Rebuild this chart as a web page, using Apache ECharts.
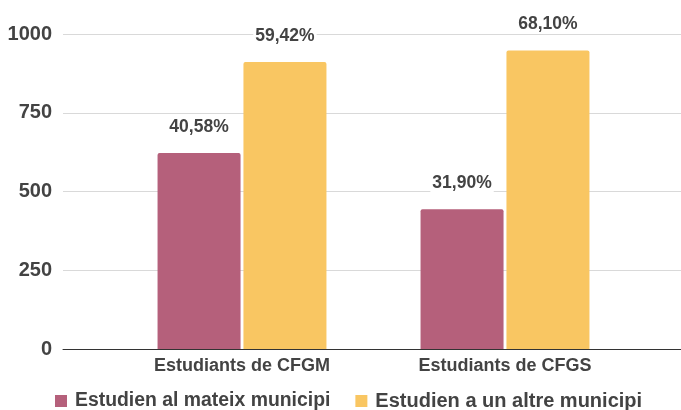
<!DOCTYPE html>
<html>
<head>
<meta charset="utf-8">
<script src="https://cdn.jsdelivr.net/npm/echarts@6/dist/echarts.min.js"></script>
<style>html,body{margin:0;padding:0;background:#fff}#c{width:681px;height:410px}</style>
</head>
<body>
<div id="c"></div>
<script>
const categories = ['Estudiants de CFGM', 'Estudiants de CFGS'];
const seriesNames = ['Estudien al mateix municipi', 'Estudien a un altre municipi'];
const sameMunicipality = [622, 444];
const otherMunicipality = [911, 948];
const sameLabels = ['40,58%', '31,90%'];
const otherLabels = ['59,42%', '68,10%'];
const yTicks = [0, 250, 500, 750, 1000];

const FONT = '"Liberation Sans", Arial, sans-serif';
const TXT = '#434343';
const colors = ['#b5607b', '#f9c662'];

function labelFor(arr) {
  return {
    show: true, position: 'top', distance: 17,
    formatter: p => arr[p.dataIndex],
    fontFamily: FONT, fontWeight: 'bold', fontSize: 17.5, color: TXT,
    backgroundColor: '#fff', padding: [0, 2]
  };
}

const chart = echarts.init(document.getElementById('c'), null, {renderer: 'canvas'});
chart.setOption({
  animation: false,
  backgroundColor: '#fff',
  textStyle: {fontFamily: FONT},
  legend: {
    left: 55, top: 391, padding: 0, itemWidth: 12, itemHeight: 12, itemGap: 25,
    icon: 'rect',
    data: [
      {name: seriesNames[0]},
      {name: seriesNames[1], textStyle: {fontSize: 20}}
    ],
    textStyle: {fontFamily: FONT, fontWeight: 'bold', fontSize: 19.4, color: TXT, padding: [0, 0, 0, 3]}
  },
  grid: [
    {left: 63, right: 0, top: 34, height: 315},
    {left: 110.5, width: 526, top: 34, height: 315}
  ],
  xAxis: [
    {gridIndex: 0, type: 'category', data: [''], axisTick: {show: false}, axisLabel: {show: false},
     axisLine: {lineStyle: {color: '#333', width: 1}}},
    {gridIndex: 1, type: 'category', data: categories, axisTick: {show: false}, axisLine: {show: false},
     axisLabel: {fontFamily: FONT, fontWeight: 'bold', fontSize: 18, color: TXT, margin: 8}}
  ],
  yAxis: [
    {gridIndex: 0, type: 'value', min: yTicks[0], max: yTicks[yTicks.length - 1], interval: yTicks[1] - yTicks[0],
     axisLine: {show: false}, axisTick: {show: false},
     axisLabel: {fontFamily: FONT, fontWeight: 'bold', fontSize: 20, color: TXT, margin: 11,
                 formatter: v => String(v)},
     splitLine: {lineStyle: {color: '#d9d9d9', width: 1}}},
    {gridIndex: 1, type: 'value', min: yTicks[0], max: yTicks[yTicks.length - 1], show: false,
     splitLine: {show: false}}
  ],
  series: [
    {name: seriesNames[0], type: 'bar', xAxisIndex: 1, yAxisIndex: 1, data: sameMunicipality,
     barWidth: 83, barGap: '3.5%', itemStyle: {color: colors[0], borderRadius: [2, 2, 0, 0]},
     label: labelFor(sameLabels), z: 3},
    {name: seriesNames[1], type: 'bar', xAxisIndex: 1, yAxisIndex: 1, data: otherMunicipality,
     barWidth: 83, barGap: '3.5%', itemStyle: {color: colors[1], borderRadius: [2, 2, 0, 0]},
     label: labelFor(otherLabels), z: 3}
  ]
});
</script>
</body>
</html>
